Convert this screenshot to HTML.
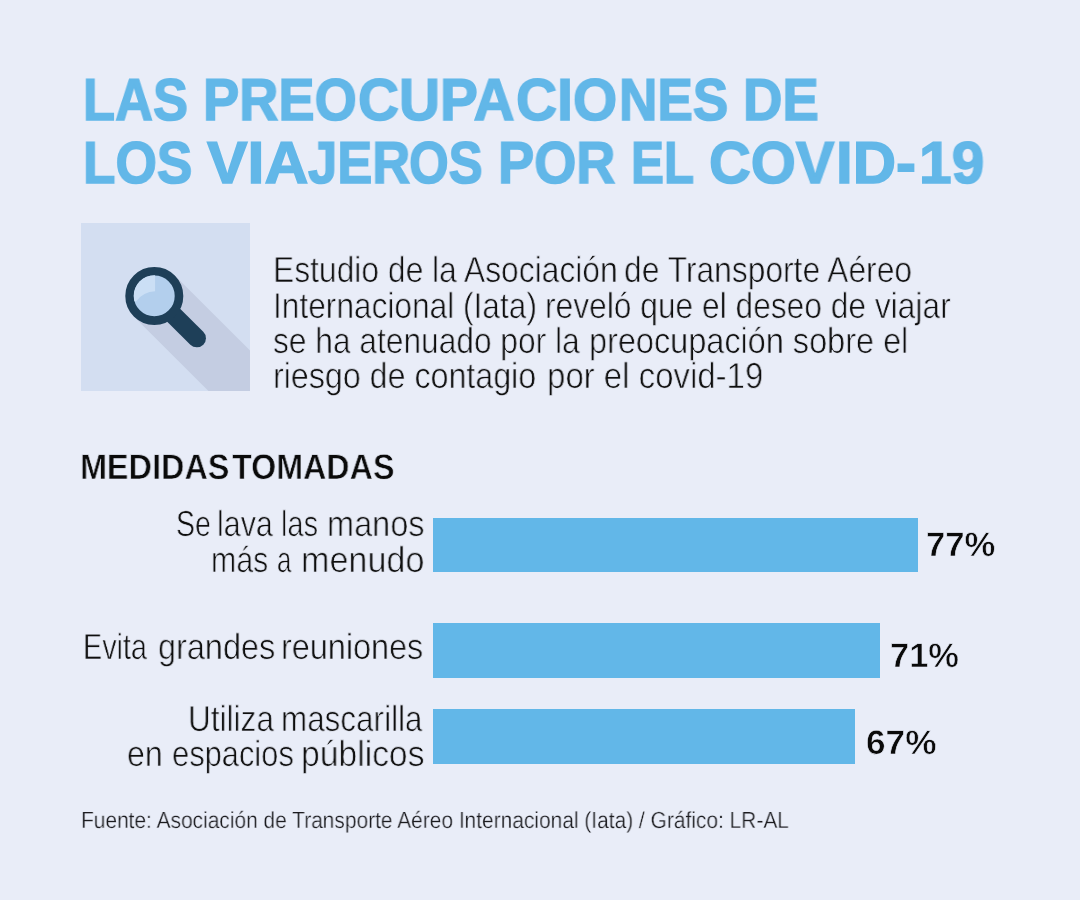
<!DOCTYPE html>
<html lang="es">
<head>
<meta charset="utf-8">
<title>Las preocupaciones de los viajeros por el covid-19</title>
<style>
  html, body { margin: 0; padding: 0; }
  body {
    width: 1080px; height: 900px; overflow: hidden; position: relative;
    background: #e9edf8;
    font-family: "Liberation Sans", sans-serif;
    color: #1a1a1a;
  }
  h1, h2, p, .grp { margin: 0; padding: 0; font-size: inherit; font-weight: inherit; }
  .t { position: absolute; white-space: nowrap; line-height: 1; transform-origin: 0 0; display: block; will-change: transform; text-rendering: geometricPrecision; }
  .tt { font-weight: bold; font-size: 59.2px; color: #62b7e8; -webkit-text-stroke: 1.5px #62b7e8; }
  .p  { font-size: 36.2px; color: #0e0e0e; -webkit-text-stroke: 0.7px #e9edf8; }
  .hh { font-weight: bold; font-size: 35.5px; color: #0a0a0a; -webkit-text-stroke: 0.6px #e9edf8; }
  .pc { font-weight: bold; font-size: 34.0px; color: #0a0a0a; -webkit-text-stroke: 0.6px #e9edf8; }
  .ft { font-size: 23.3px; color: #1c1c20; -webkit-text-stroke: 0.3px #e9edf8; }
  .bar { position: absolute; left: 433px; height: 54.5px; background: #62b7e8; }
  #icon { position: absolute; left: 81px; top: 222.5px; width: 169px; height: 168.5px; }
</style>
</head>
<body>

<h1 class="grp">
  <span id="t1a" class="t tt" style="left:82.90px; top:70.00px; transform:scaleX(0.8860)">LAS</span>
  <span id="t1b1" class="t tt" style="left:202.79px; top:70.00px; transform:scaleX(0.9167)">PREO</span><span id="t1b2" class="t tt" style="left:358.08px; top:70.00px; transform:scaleX(0.9588)">CUPA</span><span id="t1b3" class="t tt" style="left:515.63px; top:70.00px; transform:scaleX(0.9611)">CIO</span><span id="t1b4" class="t tt" style="left:619.31px; top:70.00px; transform:scaleX(0.8974)">NES</span>
  <span id="t1c" class="t tt" style="left:743.11px; top:70.00px; transform:scaleX(0.9212)">DE</span>
  <span id="t2a" class="t tt" style="left:82.90px; top:133.00px; transform:scaleX(0.8978)">LOS</span>
  <span id="t2b1" class="t tt" style="left:206.70px; top:133.00px; transform:scaleX(1.0268)">VIA</span><span id="t2b2" class="t tt" style="left:308.00px; top:133.00px; transform:scaleX(0.8870)">JER</span><span id="t2b3" class="t tt" style="left:408.93px; top:133.00px; transform:scaleX(0.8615)">OS</span>
  <span id="t2c" class="t tt" style="left:498.11px; top:133.00px; transform:scaleX(0.9155)">POR</span>
  <span id="t2d" class="t tt" style="left:631.07px; top:133.00px; transform:scaleX(0.8336)">EL</span>
  <span id="t2e1" class="t tt" style="left:709.24px; top:133.00px; transform:scaleX(0.9780)">COV</span><span id="t2e2" class="t tt" style="left:836.06px; top:133.00px; transform:scaleX(1.0135)">ID-</span><span id="t2e3" class="t tt" style="left:918.83px; top:133.00px; transform:scaleX(0.9911)">19</span>
</h1>
<svg id="icon" viewBox="0 0 169 168.5" xmlns="http://www.w3.org/2000/svg" role="img" aria-label="Lupa">
  <defs><clipPath id="lens"><circle cx="73.3" cy="72.9" r="20.6"/></clipPath></defs>
  <rect width="169" height="168.5" fill="#d3def1"/>
  <path d="M93.8 52.4 L169 127.6 L169 168.5 L128 168.5 L52.8 93.4 Z" fill="#c4cde2"/>
  <line x1="73.3" y1="72.9" x2="115.8" y2="115.2" stroke="#1e3f58" stroke-width="18.3" stroke-linecap="round"/>
  <circle cx="73.3" cy="72.9" r="24.7" fill="#b3cfed" stroke="#1e3f58" stroke-width="8.6"/>
  <path clip-path="url(#lens)" d="M74.1 68.3 Q62.5 68.6 55 78.4 L40 78.4 L40 40 L74.1 40 Z" fill="#cbdff5"/>
</svg>

<p class="grp">
  <span id="p1a" class="t p" style="left:273.36px; top:252.00px; transform:scaleX(0.8786)">Estudio de la Asociación</span>
  <span id="p1b" class="t p" style="left:624.38px; top:252.00px; transform:scaleX(0.8784)">de Transporte Aéreo</span>
  <span id="p2a" class="t p" style="left:272.50px; top:288.00px; transform:scaleX(0.8746)">Internacional (Iata)</span>
  <span id="p2b" class="t p" style="left:544.79px; top:288.00px; transform:scaleX(0.8767)">reveló que el deseo de viajar</span>
  <span id="p3a" class="t p" style="left:273.11px; top:323.00px; transform:scaleX(0.8759)">se ha atenuado por la</span>
  <span id="p3b" class="t p" style="left:589.31px; top:323.00px; transform:scaleX(0.8966)">preocupación sobre el</span>
  <span id="p4a" class="t p" style="left:273.33px; top:358.00px; transform:scaleX(0.8901)">riesgo de contagio</span>
  <span id="p4b" class="t p" style="left:547.14px; top:358.00px; transform:scaleX(0.9112)">por el covid-19</span>
</p>
<h2 class="grp">
  <span id="h2a" class="t hh" style="left:79.85px; top:450.00px; transform:scaleX(0.9123)">MEDIDAS</span>
  <span id="h2b" class="t hh" style="left:232.09px; top:450.00px; transform:scaleX(0.9082)">TOMADAS</span>
</h2>
<div class="row">
<div class="grp">
  <span id="l1a1" class="t p" style="left:175.80px; top:506.00px; transform:scaleX(0.7858)">Se</span>
  <span id="l1a2" class="t p" style="left:217.13px; top:506.00px; transform:scaleX(0.8413)">lava</span>
  <span id="l1a3" class="t p" style="left:281.48px; top:506.00px; transform:scaleX(0.8005)">las</span>
  <span id="l1a4" class="t p" style="left:326.86px; top:506.00px; transform:scaleX(0.8982)">manos</span>
  <span id="l1b1" class="t p" style="left:210.96px; top:542.00px; transform:scaleX(0.8377)">más</span>
  <span id="l1b2" class="t p" style="left:276.82px; top:542.00px; transform:scaleX(0.7151)">a</span>
  <span id="l1b3" class="t p" style="left:300.60px; top:542.00px; transform:scaleX(0.9429)">menudo</span>
</div>
<div class="bar" style="top:517.5px; width:485px"></div>
<div class="grp">
  <span id="c1" class="t pc" style="left:925.87px; top:528.00px; transform:scaleX(1.0193)">77%</span>
</div>
</div>
<div class="row">
<div class="grp">
  <span id="l2a1" class="t p" style="left:82.60px; top:629.00px; transform:scaleX(0.7950)">Evita</span>
  <span id="l2a2" class="t p" style="left:157.77px; top:629.00px; transform:scaleX(0.8961)">grandes</span>
  <span id="l2a3" class="t p" style="left:281.20px; top:629.00px; transform:scaleX(0.8948)">reuniones</span>
</div>
<div class="bar" style="top:623.0px; width:447px"></div>
<div class="grp">
  <span id="c2" class="t pc" style="left:889.77px; top:639.00px; transform:scaleX(1.0134)">71%</span>
</div>
</div>
<div class="row">
<div class="grp">
  <span id="l3a1" class="t p" style="left:188.38px; top:701.00px; transform:scaleX(0.8717)">Utiliza</span>
  <span id="l3a2" class="t p" style="left:281.17px; top:701.00px; transform:scaleX(0.8679)">mascarilla</span>
  <span id="l3b1" class="t p" style="left:126.69px; top:736.00px; transform:scaleX(0.8841)">en</span>
  <span id="l3b2" class="t p" style="left:172.29px; top:736.00px; transform:scaleX(0.8533)">espacios</span>
  <span id="l3b3" class="t p" style="left:300.53px; top:736.00px; transform:scaleX(0.9298)">públicos</span>
</div>
<div class="bar" style="top:709.0px; width:422px"></div>
<div class="grp">
  <span id="c3" class="t pc" style="left:866.16px; top:726.00px; transform:scaleX(1.0353)">67%</span>
</div>
</div>
<p class="grp">
  <span id="f1" class="t ft" style="left:80.92px; top:809.00px; transform:scaleX(0.8976)">Fuente: Asociación de Transporte Aéreo Internacional (Iata) / Gráfico: LR-AL</span>
</p>
</body>
</html>
